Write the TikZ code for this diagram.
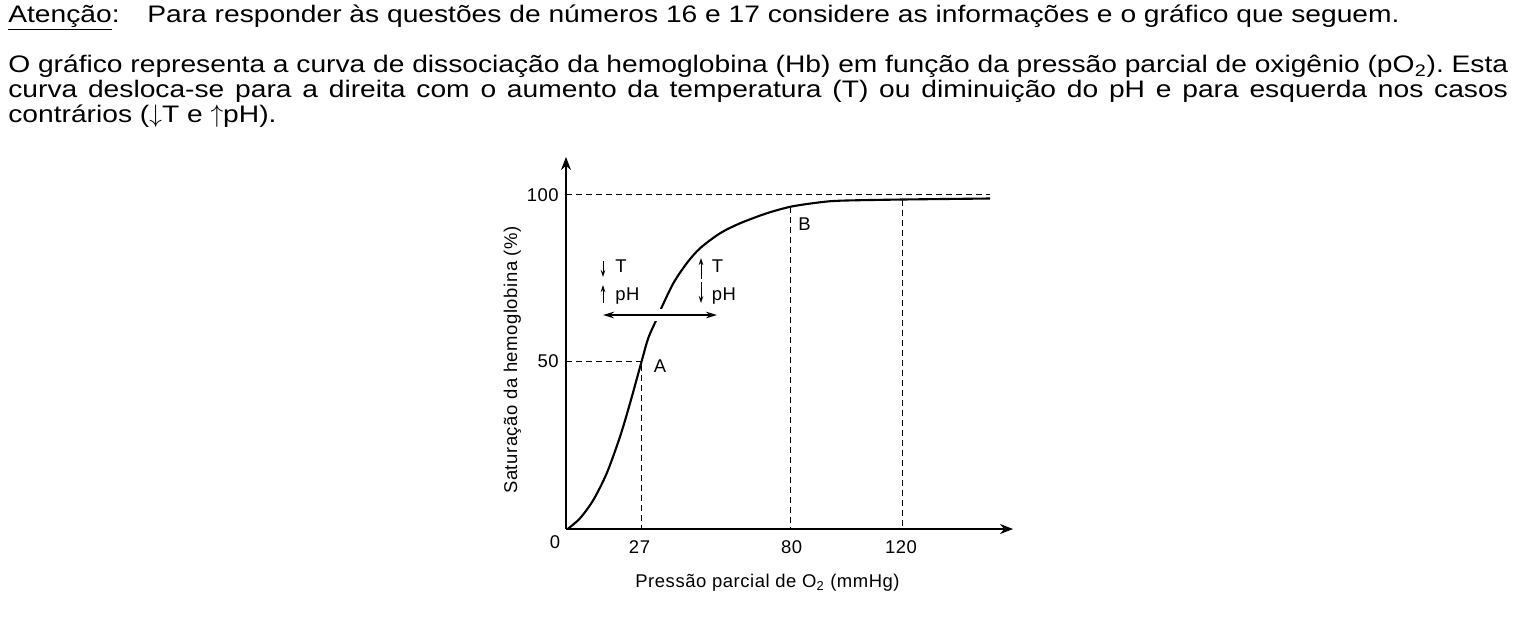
\documentclass[tikz,border=0pt]{standalone}
\usepackage{fontspec}
\setmainfont{Liberation Sans}
\newfontfamily\textofont[FakeStretch=1.18]{Liberation Sans}
\newfontfamily\graffont[LetterSpace=3]{Liberation Sans}
\usetikzlibrary{arrows.meta}
\tikzset{
  texto/.style={inner sep=0pt,font=\textofont\fontsize{13.6}{14.2}\selectfont},
  rot/.style={inner sep=0pt,font=\graffont\fontsize{10.5}{12}\selectfont},
  eixo/.style={line width=0.6pt,-{Stealth[length=0.26cm,width=0.2cm]}},
  guia/.style={line width=0.5pt,dash pattern=on 0.12cm off 0.08cm},
  curva/.style={line width=1.2pt},
  seta/.style={line width=0.5pt,-{Stealth[length=0.14cm,width=0.09cm]}},
  desloc/.style={line width=1.1pt,{Stealth[length=0.22cm,width=0.13cm]}-{Stealth[length=0.22cm,width=0.13cm]},
    preaction={draw=white,line width=6.5pt,-}},
}
\begin{document}
\frenchspacing
\begin{tikzpicture}[x=0.02cm,y=-0.02cm]
\useasboundingbox (0,0) rectangle (1518,627);
% enunciado
\node[texto,anchor=base west] (atencao) at (8,22) {\underline{Atenção}:};
\node[texto,anchor=base west] (instrucao) at (147,22) {Para responder às questões de números 16 e 17 considere as informações e o gráfico que seguem.};
\node[texto,anchor=base west,text width=30cm,align=justify] (enunciado) at (8,72.5) {O gráfico representa a curva de dissociação da hemoglobina (Hb) em função da pressão parcial de oxigênio (pO\textsubscript{2}). Esta\linebreak curva desloca-se para a direita com o aumento da temperatura (T) ou diminuição do pH e para esquerda nos casos\linebreak contrários ($\downarrow$T e $\uparrow$pH).};
% eixos
\coordinate (O) at (566,529);
\coordinate (ytopo) at (566,157);
\coordinate (xfim) at (1013,529);
\draw[eixo] (O) -- (ytopo);
\draw[eixo] (O) -- (xfim);
% linhas tracejadas
\coordinate (A) at (641.7,361);
\coordinate (B) at (790.7,206.7);
\coordinate (C) at (902.7,199.7);
\coordinate (y100) at (566,194.3);
\coordinate (y100fim) at (990,194.3);
\draw[guia] (y100) -- (y100fim);
\draw[guia] (O |- A) -- (A) -- (A |- O);
\draw[guia] (B) -- (B |- O);
\draw[guia] (C) -- (C |- O);
% curva
\draw[curva] plot[smooth] coordinates {(567.5,529) (580,518.3) (593.3,500) (606.7,473.3) (620,436.7) (630,403.3) (641.7,361) (648.3,338) (656.7,319) (661.7,307.3) (673.3,283.3) (686.7,263.3) (700,248.3) (720,233.3) (740,223.3) (766.7,213.3) (790.7,206.7) (816.7,202.7) (840,200.7) (902.7,199.5) (990,198.5)};
% deslocamento
\coordinate (dl) at (603,315);
\coordinate (dr) at (717,315);
\draw[desloc] (dl) -- (dr);
\coordinate (s1a) at (603,261);
\coordinate (s1b) at (603,277);
\coordinate (s2a) at (603,303);
\coordinate (s2b) at (603,285);
\coordinate (s3a) at (701,279);
\coordinate (s3b) at (701,258);
\coordinate (s4a) at (701,282);
\coordinate (s4b) at (701,303);
\draw[seta] (s1a) -- (s1b);
\draw[seta] (s2a) -- (s2b);
\draw[seta] (s3a) -- (s3b);
\draw[seta] (s4a) -- (s4b);
\node[rot,anchor=base west] (Tesq) at (615,272) {T};
\node[rot,anchor=base west] (pHesq) at (615,300) {pH};
\node[rot,anchor=base west] (Tdir) at (711.5,272.5) {T};
\node[rot,anchor=base west] (pHdir) at (711.5,300.5) {pH};
% rotulos
\node[rot,anchor=base west] (rotA) at (653.5,372) {A};
\node[rot,anchor=base west] (rotB) at (798,230) {B};
\node[rot,anchor=base east] (r100) at (559,201) {100};
\node[rot,anchor=base east] (r50) at (559,367.6) {50};
\node[rot,anchor=base] (r0) at (555,548) {0};
\node[rot,anchor=base] (r27) at (639.5,553.3) {27};
\node[rot,anchor=base] (r80) at (791.7,553.3) {80};
\node[rot,anchor=base] (r120) at (901,553.3) {120};
\node[rot,anchor=base] (xrot) at (767.5,587.3) {Pressão parcial de O\textsubscript{2} (mmHg)};
\node[rot,anchor=base,rotate=90] (yrot) at (517,360) {Saturação da hemoglobina (\%)};
\end{tikzpicture}
\end{document}
